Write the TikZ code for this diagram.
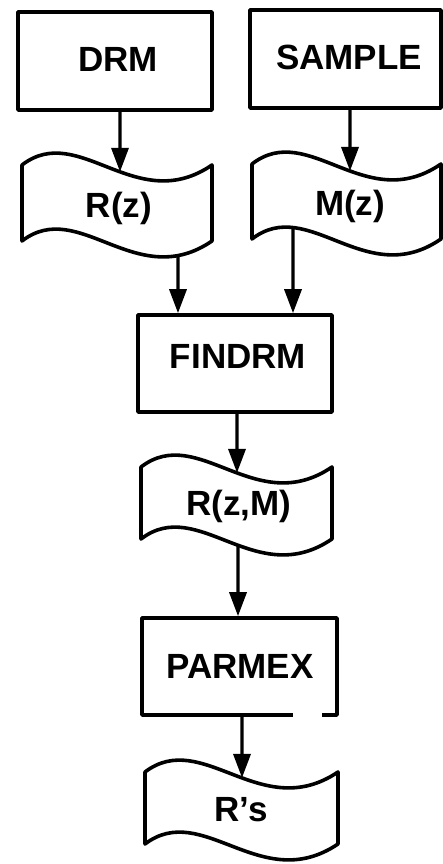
\documentclass[tikz,border=0pt]{standalone}
\usepackage{fontspec}
\setmainfont{Liberation Sans}
\usetikzlibrary{arrows.meta,intersections}
\newcommand\wavedoc[5]{%
  \draw[doc] (#2,#4) .. controls ({#2+0.3*(#3-#2)},{#4-44}) and ({#2+0.6*(#3-#2)},{#4+52}) .. (#3,#4)
    -- (#3,#5) .. controls ({#2+0.6*(#3-#2)},{#5+52}) and ({#2+0.3*(#3-#2)},{#5-44}) .. (#2,#5) -- cycle;
  \path[name path=#1top] (#2,#4) .. controls ({#2+0.3*(#3-#2)},{#4-44}) and ({#2+0.6*(#3-#2)},{#4+52}) .. (#3,#4);
  \path[name path=#1bot] (#2,#5) .. controls ({#2+0.3*(#3-#2)},{#5-44}) and ({#2+0.6*(#3-#2)},{#5+52}) .. (#3,#5);
}
\begin{document}
\begin{tikzpicture}[x=1pt,y=-1pt,line width=3.6pt,line join=round,
  box/.style={draw,rectangle,inner sep=0pt},
  hidden/.style={rectangle,inner sep=0pt},
  doc/.style={draw,line join=round},
  lbl/.style={anchor=base,inner sep=0pt,font=\fontsize{35}{40}\selectfont\bfseries},
  arr/.style={-{Triangle[length=24pt,width=17pt]},line width=3.4pt}]
\useasboundingbox (0,0) rectangle (443,864);
% boxes
\node[box,minimum width=194pt,minimum height=98pt] (drm) at (115,61) {};
\node[box,minimum width=191pt,minimum height=98pt] (sample) at (345.5,59) {};
\node[box,minimum width=194pt,minimum height=97pt] (findrm) at (235,363.5) {};
\node[hidden,minimum width=195pt,minimum height=97pt] (parmex) at (239.5,666.5) {};
\draw (293,715) -- (142,715) -- (142,618) -- (337,618) -- (337,715) -- (322,715);
% documents
\wavedoc{rz}{22}{212}{165}{241}
\wavedoc{mz}{252}{441}{164}{239}
\wavedoc{rzm}{141}{332}{467}{539}
\wavedoc{rs}{145}{338}{772}{844}
% labels
\node[lbl] (tdrm) at (118,72) {DRM};
\node[lbl] (tsample) at (349,70) {SAMPLE};
\node[lbl] (trz) at (119,217) {R(z)};
\node[lbl] (tmz) at (350,215) {M(z)};
\node[lbl] (tfindrm) at (238,368) {FINDRM};
\node[lbl] (trzm) at (239,515) {R(z,M)};
\node[lbl] (tparmex) at (240,678) {PARMEX};
\node[lbl] (trs) at (241,821) {R's};
% vertical guide paths
\coordinate (xA) at (120,0);
\coordinate (xB) at (350,0);
\coordinate (xC) at (178,0);
\coordinate (xD) at (293,0);
\coordinate (xE) at (237,0);
\coordinate (xF) at (238,0);
\coordinate (xG) at (242,0);
\path[name path=vA] (120,0) -- (120,864);
\path[name path=vB] (350,0) -- (350,864);
\path[name path=vC] (178,0) -- (178,864);
\path[name path=vD] (293,0) -- (293,864);
\path[name path=vE] (237,0) -- (237,864);
\path[name path=vF] (238,0) -- (238,864);
\path[name path=vG] (242,0) -- (242,864);
\path[name intersections={of=rztop and vA,by=rzIn}];
\path[name intersections={of=mztop and vB,by=mzIn}];
\path[name intersections={of=rzbot and vC,by=rzOut}];
\path[name intersections={of=mzbot and vD,by=mzOut}];
\path[name intersections={of=rzmtop and vE,by=rzmIn}];
\path[name intersections={of=rzmbot and vF,by=rzmOut}];
\path[name intersections={of=rstop and vG,by=rsIn}];
% connectors
\draw[arr] (xA |- drm.south) -- (rzIn);
\draw[arr] (xB |- sample.south) -- (mzIn);
\draw[arr] (rzOut) -- (xC |- findrm.north);
\draw[arr] (mzOut) -- (xD |- findrm.north);
\draw[arr] (xE |- findrm.south) -- (rzmIn);
\draw[arr] (rzmOut) -- (xF |- parmex.north);
\draw[arr] (xG |- parmex.south) -- (rsIn);
\end{tikzpicture}
\end{document}
